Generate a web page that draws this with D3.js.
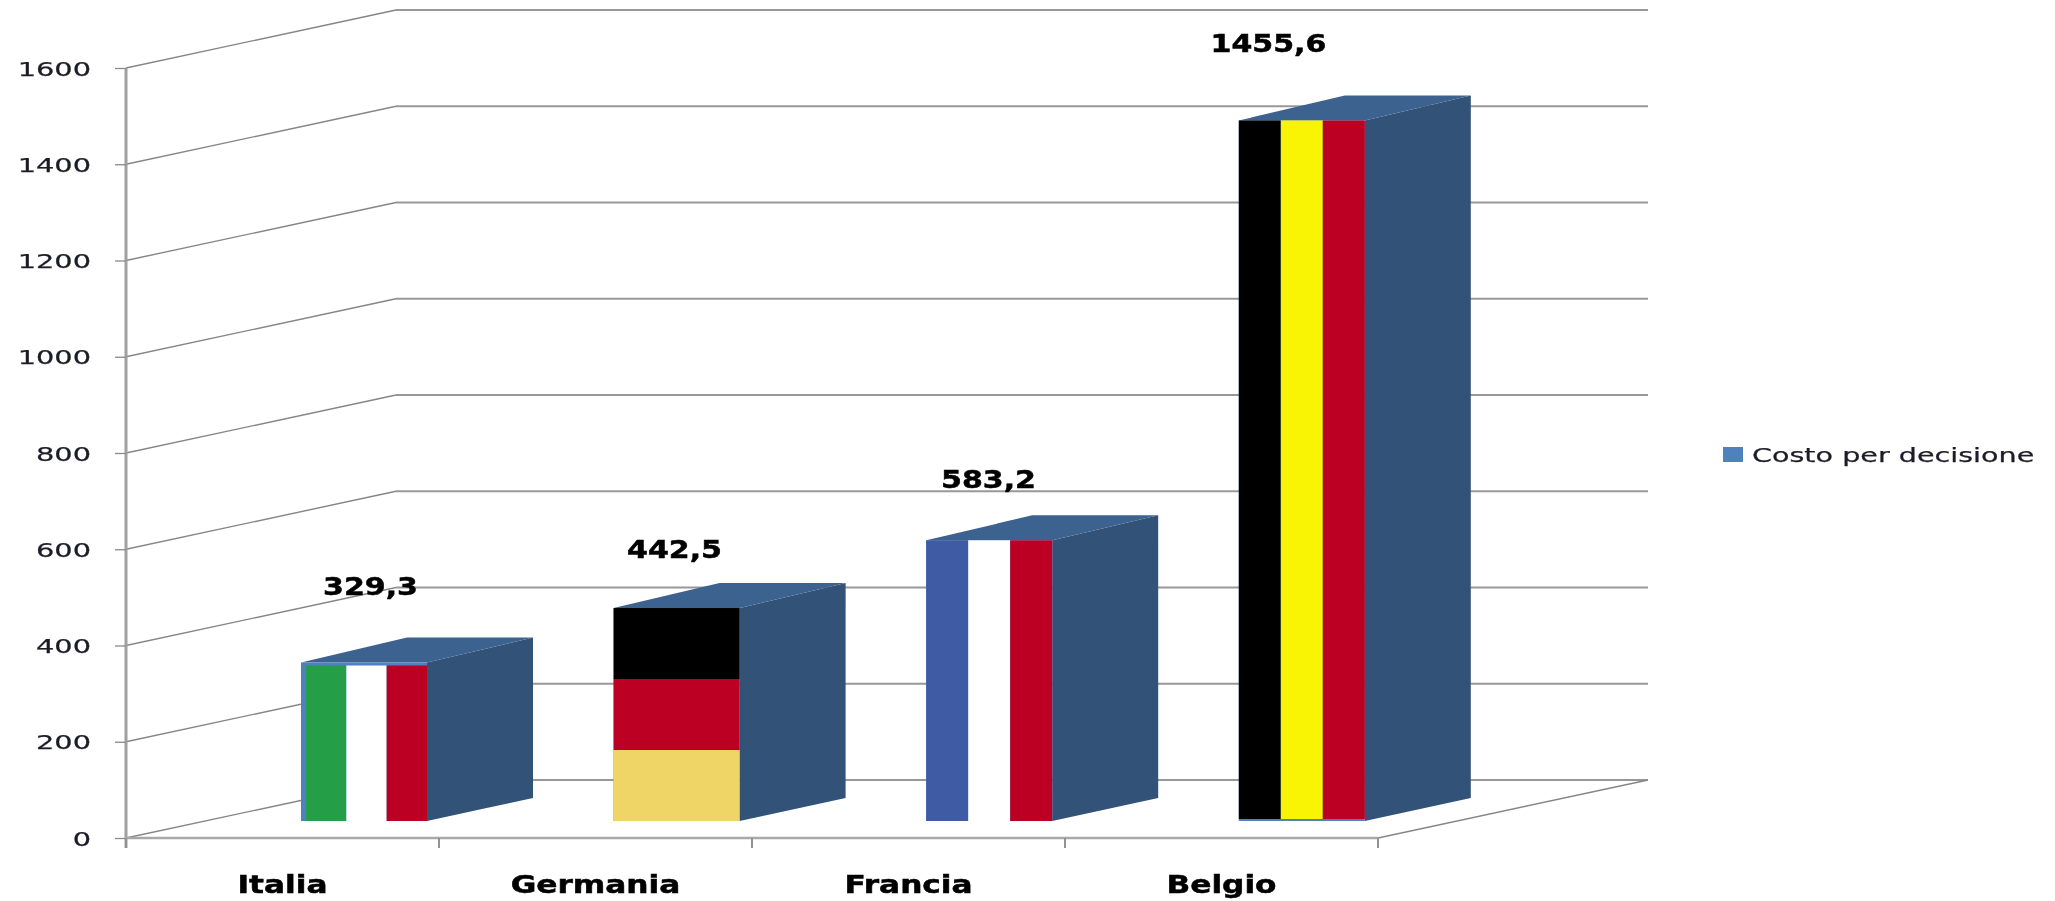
<!DOCTYPE html>
<html><head><meta charset="utf-8">
<script src="https://cdn.jsdelivr.net/npm/d3@7/dist/d3.min.js"></script>
<style>html,body{margin:0;background:#fff;overflow:hidden}svg{display:block}</style>
</head><body><div id="c"></div>
<script>
const categories = ["Italia","Germania","Francia","Belgio"];
const values = [329.3,442.5,583.2,1455.6];
const valueLabels = ["329,3","442,5","583,2","1455,6"];
const yTicks = [0,200,400,600,800,1000,1200,1400,1600];
const flagColors = [
  ["#259e48","#ffffff","#bc0024"],
  ["#000000","#bc0024","#efd466"],
  ["#3e5ba3","#ffffff","#bc0024"],
  ["#000000","#f8f404","#bc0024"]
];
const flagDirections = ["v","h","v","v"];
const seriesName = "Costo per decisione";

const W=2055,H=901;
const svg=d3.select("#c").append("svg").attr("width",W).attr("height",H);
const defs=svg.append("defs");
defs.append("filter").attr("id","soft").append("feGaussianBlur").attr("stdDeviation",0.45);
defs.append("filter").attr("id","soft2").append("feGaussianBlur").attr("stdDeviation",0.4);

const y=d3.scaleLinear().domain([0,1600]).range([838,68]);
const x=d3.scaleBand().domain(categories).range([126,1378]);
const wall={dx:270,dy:-58};
const bar={left:175,width:126,base:-17,dx:106,dy:-23,topDy:-25};
// hand-placed data labels, as in the source chart: offset from the band centre, and baseline
const labelDx=[88,79,80,47], labelBase=[595,558,488,52];
const line=d3.line();

const grid=svg.append("g").attr("fill","none").attr("filter","url(#soft2)");
grid.selectAll(".back").data(yTicks).join("line")
  .attr("x1",126+wall.dx).attr("x2",1378+wall.dx)
  .attr("y1",d=>y(d)+wall.dy).attr("y2",d=>y(d)+wall.dy)
  .attr("stroke","#989898").attr("stroke-width",2);
grid.selectAll(".side").data(yTicks).join("line")
  .attr("x1",126).attr("x2",126+wall.dx)
  .attr("y1",d=>y(d)).attr("y2",d=>y(d)+wall.dy)
  .attr("stroke","#868686").attr("stroke-width",1.4);
grid.append("line").attr("x1",1378).attr("x2",1378+wall.dx)
  .attr("y1",y(0)).attr("y2",y(0)+wall.dy)
  .attr("stroke","#868686").attr("stroke-width",1.4);

const axisG=svg.append("g").attr("filter","url(#soft2)");
const yAxis=d3.axisLeft(y).tickValues(yTicks).tickSize(11).tickPadding(24).tickFormat(d3.format("d"));
const gy=axisG.append("g").attr("transform","translate(126,0)").call(yAxis);
gy.select(".domain").attr("stroke","#a0a0a0").attr("stroke-width",3).attr("d","M0,68V848");
gy.selectAll(".tick line").attr("stroke","#8a8a8a").attr("stroke-width",1.3);
gy.selectAll("text").attr("font-family","'DejaVu Sans'").attr("font-size",20).attr("fill","#1c1c28")
  .attr("stroke","#1c1c28").attr("stroke-width",0.25).attr("dy",null).attr("y",7);

const xTickVals=categories.map(c=>x(c)).concat([1378]);
axisG.append("line").attr("x1",126).attr("x2",1378).attr("y1",y(0)).attr("y2",y(0))
  .attr("stroke","#a8a8a8").attr("stroke-width",2.6);
axisG.selectAll(".xt").data(xTickVals).join("line")
  .attr("x1",d=>d).attr("x2",d=>d).attr("y1",y(0)).attr("y2",848)
  .attr("stroke","#929292").attr("stroke-width",2);

const bars=svg.append("g");
categories.forEach((c,i)=>{
  const x0=x(c)+bar.left-(i*0.4), x1=x0+bar.width;
  const yb=y(0)+bar.base, yt=yb-(y(0)-y(values[i]));
  const g=bars.append("g");
  g.append("path").attr("fill","#325277")
    .attr("d",line([[x1,yt],[x1+bar.dx,yt+bar.topDy],[x1+bar.dx,yb+bar.dy],[x1,yb]])+"Z");
  g.append("path").attr("fill","#3c6290")
    .attr("d",line([[x0,yt],[x0+bar.dx,yt+bar.topDy],[x1+bar.dx,yt+bar.topDy],[x1,yt]])+"Z");
  g.append("rect").attr("x",x0).attr("y",yt).attr("width",bar.width).attr("height",yb-yt).attr("fill","#4f81bd");
  const inset=i===0?5:0, topInset=i===0?3:0, botInset=i===3?2:0;
  const colors=flagColors[i];
  const idx=d3.range(colors.length);
  if(flagDirections[i]==="v"){
    const s=d3.scaleBand().domain(idx).range([x0+inset,x1]);
    g.selectAll(".st").data(idx).join("rect")
      .attr("x",d=>s(d)).attr("width",s.bandwidth()).attr("y",yt+topInset).attr("height",yb-yt-topInset-botInset)
      .attr("fill",d=>colors[d]);
  } else {
    const s=d3.scaleBand().domain(idx).range([yt,yb]);
    g.selectAll(".st").data(idx).join("rect")
      .attr("y",d=>s(d)).attr("height",s.bandwidth()).attr("x",x0).attr("width",bar.width)
      .attr("fill",d=>colors[d]);
  }
});

function stretch(sel,f){
  sel.each(function(){
    const n=this.getComputedTextLength();
    d3.select(this).attr("textLength",n*f).attr("lengthAdjust","spacingAndGlyphs");
  });
}
stretch(gy.selectAll("text"),1.44);
gy.attr("filter","url(#soft)");

const texts=svg.append("g").attr("filter","url(#soft)");
const cats=texts.selectAll(".cat").data(categories).join("text")
  .attr("x",d=>x(d)+x.bandwidth()/2).attr("y",893).attr("text-anchor","middle")
  .attr("font-family","'DejaVu Sans'").attr("font-weight","bold").attr("font-size",24).attr("fill","#000")
  .attr("stroke","#000").attr("stroke-width",0.5)
  .text(d=>d);
stretch(cats,1.3);
const vals=texts.selectAll(".val").data(categories).join("text")
  .attr("x",(d,i)=>x(d)+x.bandwidth()/2+labelDx[i]).attr("y",(d,i)=>labelBase[i])
  .attr("text-anchor","middle")
  .attr("font-family","'DejaVu Sans'").attr("font-weight","bold").attr("font-size",24).attr("fill","#000")
  .attr("stroke","#000").attr("stroke-width",0.5)
  .text((d,i)=>valueLabels[i]);
stretch(vals,1.25);

const lg=svg.append("g");
lg.append("rect").attr("x",1723).attr("y",447).attr("width",20).attr("height",15).attr("fill","#4f81bd");
const lt=lg.append("text").attr("x",1752).attr("y",462).attr("font-family","'DejaVu Sans'").attr("font-size",20)
  .attr("fill","#1c1c28").attr("stroke","#1c1c28").attr("stroke-width",0.25).attr("filter","url(#soft)").text(seriesName);
stretch(lt,1.43);
</script></body></html>
